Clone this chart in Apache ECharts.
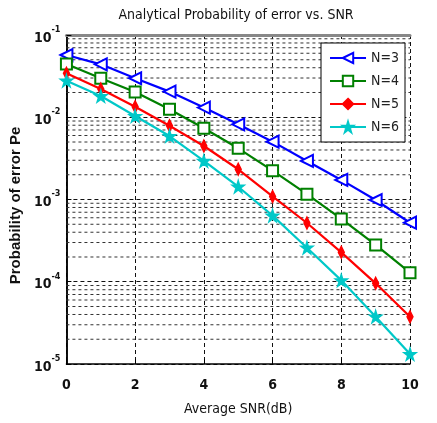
<!DOCTYPE html>
<html><head><meta charset="utf-8">
<script src="https://cdn.jsdelivr.net/npm/echarts@6/dist/echarts.min.js"></script>
<style>html,body{margin:0;padding:0;background:#fff}#c{width:437px;height:423px}</style>
</head><body><div id="c"></div>
<script>
const snr = [0,1,2,3,4,5,6,7,8,9,10];
const seriesNames = ['N=3','N=4','N=5','N=6'];
const peN3 = [0.0571,0.0440,0.0298,0.0205,0.0131,0.0082,0.00505,0.00294,0.00173,0.000986,0.000522];
const peN4 = [0.0444,0.0298,0.0203,0.0125,0.00735,0.00419,0.00224,0.00116,0.00058,0.00028,0.000129];
const peN5 = [0.0342,0.0220,0.0134,0.00789,0.00447,0.00233,0.00109,0.000518,0.000228,0.0000957,0.0000376];
const peN6 = [0.0278,0.0181,0.01035,0.00591,0.00294,0.00143,0.000636,0.000259,0.000104,0.0000376,0.0000132];
const xTicks = [0,2,4,6,8,10];
const yDecades = [-5,-4,-3,-2,-1];
const minorMultipliers = [2,3,4,5,6,7,8,9];

const FONT = "'Liberation Sans Narrow','DejaVu Sans Condensed','Liberation Sans',sans-serif";
const BOLD = "'Liberation Sans','Arial',sans-serif";
const minorValues = [];
yDecades.slice(0,-1).forEach(d => minorMultipliers.forEach(m => minorValues.push(m*Math.pow(10,d))));

const starPath = 'path://M50,0 L61,35 L98,35 L68,57 L79,91 L50,70 L21,91 L32,57 L2,35 L39,35 Z';

function mk(name, data, color, symbol, size, rotate) {
  return {
    name, type:'line', data: snr.map((x,i)=>[x,data[i]]),
    symbol, symbolSize:size, symbolRotate: rotate||0,
    lineStyle:{color, width:2.2}, itemStyle:{color, borderColor:color, borderWidth:1.5},
    z: 5
  };
}
const gridSeries = minorValues.map(v => ({
  type:'line', silent:true, symbol:'none', z:1, legendHoverLink:false,
  data:[[xTicks[0],v],[xTicks[xTicks.length-1],v]],
  lineStyle:{color:'#333', type:[3,3], width:1}, tooltip:{show:false}
}));
const series = [
  ...gridSeries,
  mk('N=3', peN3, '#0000ff', 'emptyTriangle', 12, 90),
  mk('N=4', peN4, '#008000', 'emptyRect', 11),
  mk('N=5', peN5, '#ff0000', 'diamond', [6,12]),
  mk('N=6', peN6, '#00c8c8', starPath, 12),
];

const chart = echarts.init(document.getElementById('c'), null, {renderer:'canvas'});
chart.setOption({
  animation:false,
  backgroundColor:'#fff',
  title:{text:'Analytical Probability of error vs. SNR', left:231, top:3, textAlign:'center',
    textStyle:{fontFamily:FONT, fontSize:14, fontWeight:'normal', color:'#111'}},
  grid:{left:61, right:27, top:35, bottom:59},
  legend:{orient:'vertical', right:32, top:43, data:seriesNames, itemWidth:36, itemHeight:13, itemGap:9,
    backgroundColor:'#fff', borderColor:'#000', borderWidth:1, padding:[8,6,8,8],
    textStyle:{fontFamily:FONT, fontSize:14, color:'#222'}},
  xAxis:[{type:'value', min:0, max:10, interval:2, position:'bottom',
    name:'Average SNR(dB)', nameLocation:'middle', nameGap:38,
    nameTextStyle:{fontFamily:FONT, fontSize:14, color:'#111'},
    axisLine:{lineStyle:{color:'#000', width:1.5}},
    axisTick:{inside:true, length:5, lineStyle:{color:'#000'}},
    axisLabel:{fontFamily:FONT, fontSize:14, fontWeight:'bold', color:'#111', margin:14},
    splitLine:{show:true, lineStyle:{color:'#111', type:[4,3], width:1}}},
   {type:'value', min:0, max:10, interval:2, position:'top',
    axisLine:{lineStyle:{color:'#888', width:3}}, axisTick:{show:false}, axisLabel:{show:false}, splitLine:{show:false}}],
  yAxis:[{type:'log', logBase:10, min:1e-5, max:1e-1,
    name:'Probability of error Pe', nameLocation:'middle', nameGap:35, nameRotate:90,
    nameTextStyle:{fontFamily:BOLD, fontSize:15, fontWeight:'bold', color:'#111', padding:[0,12,0,0]},
    axisLine:{show:true, lineStyle:{color:'#000', width:1.5}},
    axisTick:{inside:true, length:5, lineStyle:{color:'#000'}},
    axisLabel:{margin:6, formatter:v=>'{b|10}{s|'+Math.round(Math.log10(v))+'}',
      rich:{b:{fontFamily:FONT, fontSize:14, fontWeight:'bold', color:'#111', padding:[6,0,0,0]},
            s:{fontFamily:FONT, fontSize:9, fontWeight:'bold', color:'#111', verticalAlign:'top', padding:[0,0,6,0]}}},
    splitLine:{show:true, lineStyle:{color:'#111', type:[4,3], width:1}}},
   {type:'log', logBase:10, min:1e-5, max:1e-1, position:'right',
    axisLine:{show:true, lineStyle:{color:'#000', width:1.5}}, axisTick:{show:false}, axisLabel:{show:false}, splitLine:{show:false}}],
  series
});
</script></body></html>
